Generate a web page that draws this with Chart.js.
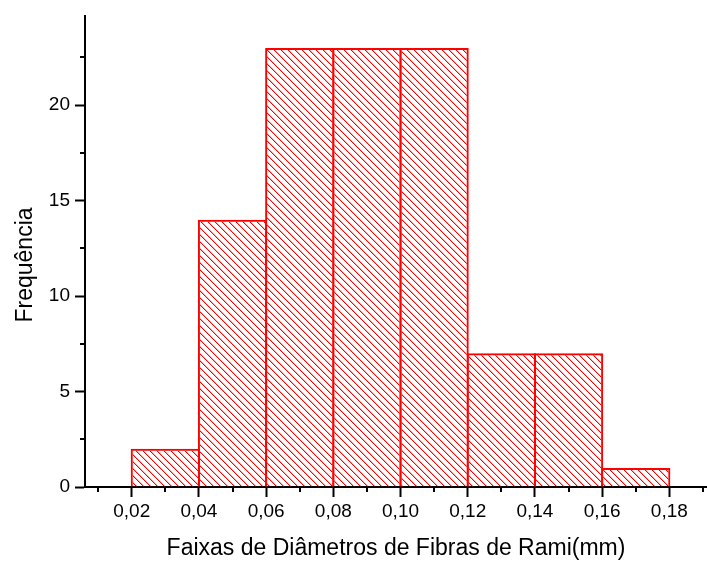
<!DOCTYPE html>
<html><head><meta charset="utf-8">
<script src="https://cdn.jsdelivr.net/npm/chart.js@4/dist/chart.umd.min.js"></script>
<style>html,body{margin:0;padding:0;background:#fff}#wrap{width:707px;height:562px;position:relative}</style>
</head><body><div id="wrap"><canvas id="c" width="707" height="562"></canvas></div>
<script>
// ---- data ----
const binEdges = [0.02, 0.04, 0.06, 0.08, 0.10, 0.12, 0.14, 0.16, 0.18];
const frequencies = [2, 14, 23, 23, 23, 7, 7, 1];
const xTickValues = [0.02, 0.04, 0.06, 0.08, 0.10, 0.12, 0.14, 0.16, 0.18];
const xMinorTickValues = [0.01, 0.03, 0.05, 0.07, 0.09, 0.11, 0.13, 0.15, 0.17, 0.19];
const yTickValues = [0, 5, 10, 15, 20];
const yMinorTickValues = [2.5, 7.5, 12.5, 17.5, 22.5];
const xTitle = 'Faixas de Diâmetros de Fibras de Rami(mm)';
const yTitle = 'Frequência';

const FONT = "'Liberation Sans', Arial, sans-serif";
const RED = '#ff0000';

// hatch pattern (diagonal "\" lines)
function makeHatch() {
  const s = 7;
  const c = document.createElement('canvas');
  c.width = s; c.height = s;
  const g = c.getContext('2d');
  g.fillStyle = RED;
  for (let i = 0; i < s; i++) g.fillRect(i, i, 1, 1);
  g.globalAlpha = 0.35;
  for (let i = 0; i < s; i++) g.fillRect((i + 1) % s, i, 1, 1);
  return g.createPattern(c, 'repeat');
}
const ctx = document.getElementById('c').getContext('2d');
const hatch = makeHatch();

const barData = frequencies.map((f, i) => ({ x: (binEdges[i] + binEdges[i + 1]) / 2, y: f }));

const minorTicks = {
  id: 'minorTicks',
  afterDraw(chart) {
    const c = chart.ctx, xs = chart.scales.x, ys = chart.scales.y;
    const area = chart.chartArea;
    c.save();
    c.strokeStyle = '#000';
    c.lineWidth = 2;
    c.beginPath();
    xMinorTickValues.forEach(v => {
      const px = Math.round(xs.getPixelForValue(v));
      if (px < area.left || px > area.right) return;
      c.moveTo(px, area.bottom); c.lineTo(px, area.bottom + 5);
    });
    yMinorTickValues.forEach(v => {
      const py = Math.round(ys.getPixelForValue(v));
      if (py < area.top || py > area.bottom) return;
      c.moveTo(area.left, py); c.lineTo(area.left - 5, py);
    });
    c.stroke();
    // y-axis title
    c.fillStyle = '#000';
    c.font = '23px ' + FONT;
    c.textAlign = 'center';
    c.textBaseline = 'middle';
    c.translate(25.5, 265);
    c.rotate(-Math.PI / 2);
    c.fillText(yTitle, 0, 0);
    c.restore();
  }
};

new Chart(ctx, {
  type: 'bar',
  data: {
    datasets: [{
      data: barData,
      backgroundColor: hatch,
      borderColor: RED,
      borderWidth: 2,
      borderSkipped: 'start',
      barPercentage: 1.03,
      categoryPercentage: 1,
      inflateAmount: 0
    }]
  },
  options: {
    responsive: false,
    animation: false,
    devicePixelRatio: 1,
    layout: { padding: { top: 10, left: 0, right: 0, bottom: 0 } },
    plugins: { legend: { display: false }, tooltip: { enabled: false }, title: { display: false } },
    scales: {
      x: {
        type: 'linear',
        min: 0.0061,
        max: 0.1912,
        offset: false,
        z: 1,
        grid: { offset: false, drawOnChartArea: false, drawTicks: true, tickLength: 10, tickColor: '#000', tickWidth: 2 },
        border: { display: true, color: '#000', width: 2 },
        afterBuildTicks: s => { s.ticks = xTickValues.map(v => ({ value: v })); },
        afterFit: s => { s.height = 75; },
        ticks: {
          autoSkip: false, maxRotation: 0, minRotation: 0, padding: 3,
          color: '#000', font: { family: FONT, size: 19 },
          callback: v => Number(v).toFixed(2).replace('.', ',')
        },
        title: { display: true, text: xTitle, color: '#000', font: { family: FONT, size: 23 }, padding: { top: 0, bottom: 0 } }
      },
      y: {
        type: 'linear',
        min: 0,
        max: 24.65,
        z: 1,
        grid: { drawOnChartArea: false, drawTicks: true, tickLength: 10, tickColor: '#000', tickWidth: 2 },
        border: { display: true, color: '#000', width: 2 },
        afterBuildTicks: s => { s.ticks = yTickValues.map(v => ({ value: v })); },
        afterFit: s => { s.width = 85; },
        ticks: {
          autoSkip: false, padding: 5,
          color: '#000', font: { family: FONT, size: 19 },
          callback: v => String(v)
        },
        title: { display: false }
      }
    }
  },
  plugins: [minorTicks]
});
</script>
</body></html>
